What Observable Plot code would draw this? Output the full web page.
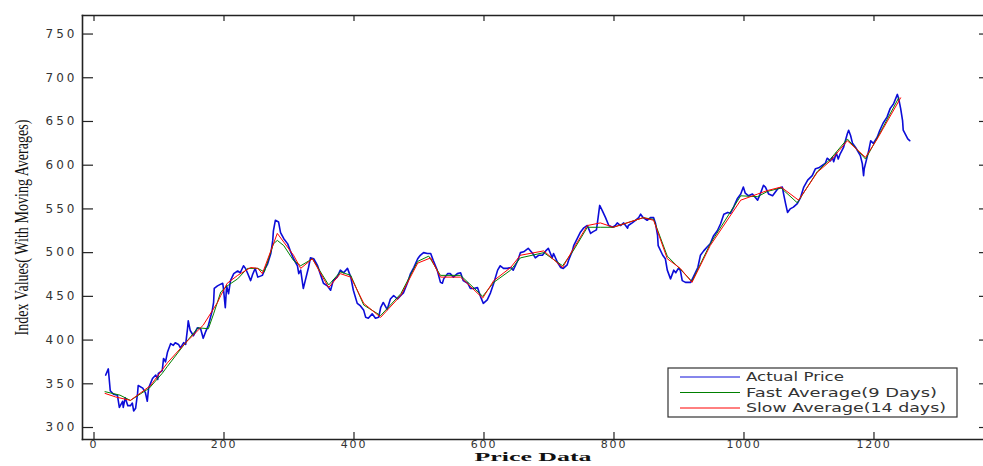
<!DOCTYPE html>
<html>
<head>
<meta charset="utf-8">
<script src="https://cdn.jsdelivr.net/npm/d3@7"></script>
<script src="https://cdn.jsdelivr.net/npm/@observablehq/plot@0.6"></script>
<style>
  body { margin: 0; background: #fff; }
  #chart { width: 983px; height: 466px; }
</style>
</head>
<body>
<div id="chart"></div>
<script>
// ---- data ----
const priceX = [18,22,25,30,36,39,44,45,48,52,56,59,61,64,67,68,75,79,82,84,90,95,98,99,105,107,110,113,118,122,125,130,133,138,141,144,145,148,153,159,164,168,172,176,182,184,185,190,195,198,199,202,204,207,210,215,221,225,230,233,236,241,244,248,252,259,264,267,272,275,276,279,284,287,292,298,302,307,313,315,318,322,325,330,333,338,344,348,353,359,364,368,374,379,384,390,395,399,405,410,415,418,422,428,433,438,441,445,451,456,461,467,472,476,482,487,492,498,502,507,513,518,522,528,533,536,538,544,548,553,559,564,568,575,579,584,590,595,599,605,610,615,621,625,630,636,641,645,652,656,661,668,675,679,684,690,695,699,705,707,713,718,722,728,730,736,738,744,748,753,759,764,768,773,775,778,782,787,792,798,802,805,810,815,821,822,828,833,838,841,845,851,856,861,864,867,868,875,879,882,887,892,895,899,902,905,910,918,922,929,933,938,944,948,953,959,964,969,975,979,984,990,995,998,999,1002,1007,1013,1021,1025,1030,1033,1038,1044,1052,1059,1061,1064,1067,1071,1076,1082,1087,1092,1098,1105,1110,1115,1121,1125,1128,1133,1136,1138,1142,1145,1148,1153,1156,1159,1161,1164,1167,1172,1175,1179,1182,1184,1185,1188,1192,1195,1199,1205,1209,1214,1220,1225,1230,1236,1238,1241,1244,1245,1252,1255];
const priceY = [360,367,342,338,337,323,330,323,334,325,325,328,319,322,339,348,345,340,330,345,356,360,355,362,365,379,375,386,396,394,397,395,391,397,395,414,422,411,405,414,413,402,410,417,434,443,459,462,464,465,460,437,462,453,468,476,479,477,485,482,477,468,475,482,472,474,483,487,499,514,525,537,535,523,516,510,502,493,485,476,480,459,468,483,494,493,485,476,465,462,457,468,472,480,477,482,472,457,442,439,434,426,425,430,425,426,437,443,435,447,451,447,451,454,465,476,483,493,497,500,499,499,491,480,466,465,470,476,476,472,476,477,468,465,459,459,460,449,442,446,454,465,480,485,482,482,483,480,491,500,501,505,499,494,497,497,502,505,494,499,489,483,482,486,491,502,508,517,523,528,531,522,524,526,537,554,548,540,531,529,531,534,531,534,528,531,534,537,540,544,540,537,540,540,533,520,508,497,493,480,470,480,477,482,480,468,466,466,472,483,497,502,507,510,519,525,533,544,546,545,552,562,567,573,575,568,565,567,560,567,577,575,567,565,573,575,567,556,546,550,552,556,563,575,583,588,596,597,600,602,608,605,609,604,614,607,613,620,628,636,640,634,625,620,616,611,602,588,596,605,617,628,625,632,640,648,655,665,670,681,676,665,651,640,630,628];

const fastX = [17,40,56,85,105,113,141,160,176,184,195,205,221,236,252,262,276,282,292,307,318,336,361,379,395,415,441,472,498,515,533,564,598,615,641,656,692,721,738,759,779,799,845,861,882,902,920,948,995,1021,1036,1057,1082,1113,1133,1159,1187,1205,1238];
const fastY = [341,337,331,345,362,370,397,414,413,430,455,462,470,482,482,478,510,514,508,491,485,493,463,478,474,440,428,453,490,496,474,474,450,466,480,494,500,485,503,529,529,529,540,538,496,481,467,510,565,564,570,574,557,593,607,630,607,631,677];

const slowX = [17,33,56,87,113,141,168,190,195,205,221,241,252,259,272,282,292,307,318,336,361,379,395,415,441,472,498,518,533,564,598,615,641,656,692,721,738,759,779,799,845,861,882,902,920,948,995,1021,1036,1057,1084,1113,1133,1159,1187,1205,1241];
const slowY = [339,335,331,348,374,397,417,443,451,465,474,483,482,476,502,522,512,497,482,493,460,476,472,442,426,451,488,494,472,472,448,468,483,497,502,483,505,531,534,529,540,537,493,482,466,508,560,567,571,575,560,592,605,628,609,630,677];

const xTicks = [0, 200, 400, 600, 800, 1000, 1200];
const yTicks = [300, 350, 400, 450, 500, 550, 600, 650, 700, 750];
const seriesNames = ["Actual Price", "Fast Average(9 Days)", "Slow Average(14 days)"];
const seriesColors = ["#0c0cd8", "#008000", "#ff0000"];
const xLabel = "Price Data";
const yLabel = "Index Values( With Moving Averages)";

// ---- tables ----
const actual = priceX.map((x, i) => ({x, y: priceY[i]}));
const fast = fastX.map((x, i) => ({x, y: fastY[i]}));
const slow = slowX.map((x, i) => ({x, y: slowY[i]}));

const W = 983, H = 466;
const mL = 82, mR = 0, mT = 15, mB = 27;
const frameW = W - mL - mR, frameH = H - mT - mB;

const plot = Plot.plot({
  width: W, height: H,
  marginLeft: mL, marginRight: mR, marginTop: mT, marginBottom: mB,
  style: {background: "#fff", fontFamily: "DejaVu Sans, sans-serif", fontSize: "12px", color: "#222"},
  x: {domain: [-17.7, 1368.5]},
  y: {domain: [286.3, 771.2]},
  marks: [
    Plot.line(actual, {x: "x", y: "y", stroke: seriesColors[0], strokeWidth: 1.6}),
    Plot.line(fast, {x: "x", y: "y", stroke: seriesColors[1], strokeWidth: 1}),
    Plot.line(slow, {x: "x", y: "y", stroke: seriesColors[2], strokeWidth: 1}),
    // inward ticks
    Plot.ruleY(yTicks, {y: d => d, stroke: "#222", strokeWidth: 1.2, insetRight: frameW - 11}),
    Plot.ruleY(yTicks, {y: d => d, stroke: "#222", strokeWidth: 1.2, insetLeft: frameW - 4}),
    Plot.ruleX(xTicks, {x: d => d, stroke: "#222", strokeWidth: 1.2, insetTop: frameH - 7}),
    Plot.ruleX(xTicks, {x: d => d, stroke: "#222", strokeWidth: 1.2, insetBottom: frameH - 6}),
    // box (left, top, bottom)
    Plot.frame({anchor: "left", stroke: "#222", strokeWidth: 1.6}),
    Plot.frame({anchor: "top", stroke: "#222", strokeWidth: 1.6}),
    Plot.frame({anchor: "bottom", stroke: "#222", strokeWidth: 1.6}),
    // tick labels
    Plot.axisY(yTicks, {anchor: "left", tickSize: 0, tickPadding: 5, label: null, fill: "#333", tickFormat: d3.format("d"), className: "ytl"}),
    Plot.axisX(xTicks, {anchor: "bottom", tickSize: 0, tickPadding: 1, label: null, fill: "#333", fontSize: 11, tickFormat: d3.format("d"), className: "xtl"}),
    // axis titles
    Plot.text([xLabel], {text: d => d, frameAnchor: "bottom", dy: 21.5, fontFamily: "Liberation Serif, serif", fontWeight: "bold", fontSize: 13.5, fill: "#111", className: "xlab"}),
    Plot.text([yLabel], {text: d => d, frameAnchor: "left", dx: -61, rotate: -90, fontFamily: "Liberation Serif, serif", fontSize: 19, fill: "#111", className: "ylab"})
  ]
});

const svg = d3.select(plot);
svg.selectAll(".ytl text").style("letter-spacing", "3px");
svg.selectAll(".xtl text").style("letter-spacing", "1.8px");
svg.selectAll(".xlab text").attr("text-anchor", "start").attr("x", -58.5)
  .attr("textLength", 117).attr("lengthAdjust", "spacingAndGlyphs");
svg.selectAll(".ylab text").attr("text-anchor", "start").attr("x", -108)
  .attr("textLength", 216).attr("lengthAdjust", "spacingAndGlyphs");

// legend box inside the plot area
const lg = svg.append("g").attr("class", "legend").attr("text-anchor", "start");
const lx = 668, ly = 368, lw = 289, lh = 49;
lg.append("rect").attr("x", lx).attr("y", ly).attr("width", lw).attr("height", lh)
  .attr("fill", "#fff").attr("stroke", "#333").attr("stroke-width", 1.2);
const legendWidths = [98, 191, 200];
seriesNames.forEach((name, i) => {
  const yy = ly + 9 + i * 15.5;
  lg.append("line").attr("x1", lx + 12).attr("x2", lx + 72).attr("y1", yy).attr("y2", yy)
    .attr("stroke", seriesColors[i]).attr("stroke-width", 1);
  lg.append("text").attr("x", lx + 78).attr("y", yy).attr("dy", "0.35em")
    .attr("text-anchor", "start")
    .attr("font-family", "DejaVu Sans, sans-serif").attr("font-size", 12).attr("fill", "#333")
    .attr("textLength", legendWidths[i]).attr("lengthAdjust", "spacingAndGlyphs")
    .text(name);
});

document.getElementById("chart").appendChild(plot);
</script>
</body>
</html>
